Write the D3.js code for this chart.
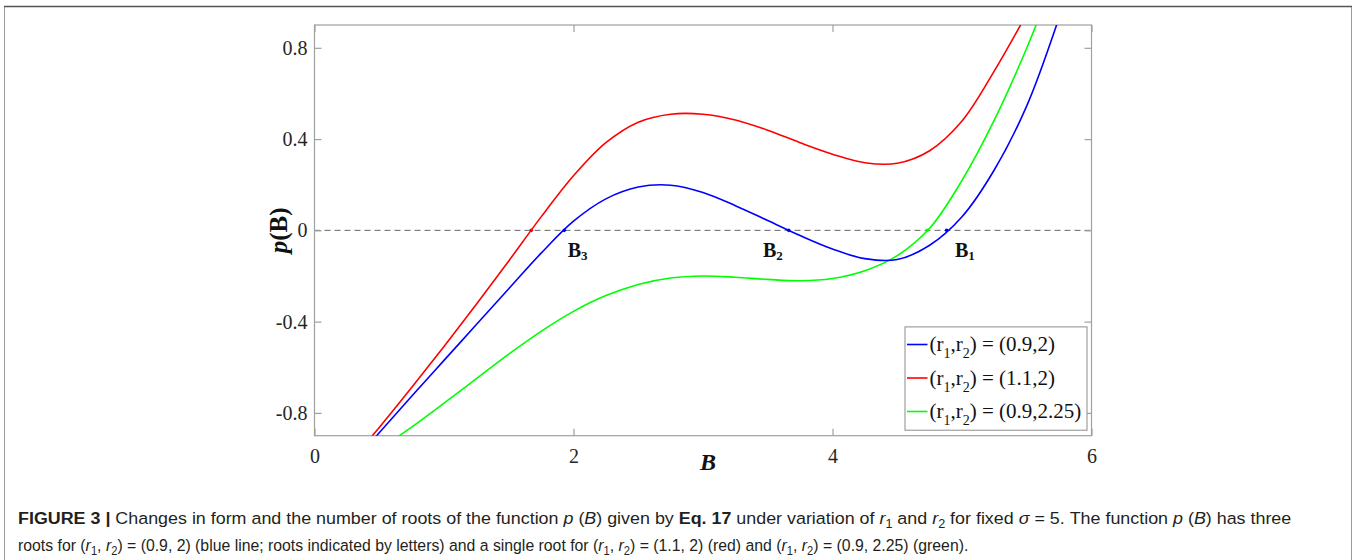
<!DOCTYPE html>
<html><head><meta charset="utf-8">
<script src="https://cdn.jsdelivr.net/npm/d3@7"></script>
<style>body{margin:0;background:#fff;} svg{display:block;}</style>
</head><body>
<svg id="chart" width="1356" height="560"></svg>
<script>
// ---------- DATA ----------
const xTicks = [0, 2, 4, 6];
const xTickLabels = ["0", "2", "4", "6"];
const yTicks = [0.8, 0.4, 0, -0.4, -0.8];
const yTickLabels = ["0.8", "0.4", "0", "-0.4", "-0.8"];

const blueB = [0.25, 0.5, 0.75, 1.0, 1.25, 1.5, 1.75, 2.0, 2.25, 2.5, 2.75, 3.0, 3.25, 3.5, 3.75, 4.0, 4.25, 4.5, 4.75, 5.0, 5.25, 5.5, 5.75];
const blueP = [-1.05, -0.887, -0.727, -0.57, -0.413, -0.256, -0.10, 0.04, 0.138, 0.19, 0.198, 0.166, 0.108, 0.043, -0.023, -0.082, -0.124, -0.128, -0.0655, 0.0595, 0.2655, 0.5455, 0.933];

const redB = [0.25, 0.5, 0.75, 1.0, 1.25, 1.5, 1.75, 2.0, 2.25, 2.5, 2.75, 3.0, 3.25, 3.5, 3.75, 4.0, 4.25, 4.5, 4.75, 5.0, 5.25, 5.5];
const redP = [-1.03, -0.864, -0.689, -0.509, -0.324, -0.134, 0.059, 0.239, 0.384, 0.474, 0.509, 0.509, 0.484, 0.439, 0.384, 0.334, 0.2965, 0.294, 0.349, 0.479, 0.699, 0.949];

const greenB = [0.5, 0.75, 1.0, 1.25, 1.5, 1.75, 2.0, 2.25, 2.5, 2.75, 3.0, 3.25, 3.5, 3.75, 4.0, 4.25, 4.5, 4.75, 5.0, 5.25, 5.5, 5.75];
const greenP = [-0.96, -0.8625, -0.7575, -0.65, -0.5425, -0.4425, -0.355, -0.286, -0.237, -0.209, -0.2, -0.2055, -0.215, -0.221, -0.211, -0.177, -0.111, 0.009, 0.219, 0.484, 0.799, 1.16];

const seriesLabels = ["(0.9,2)", "(1.1,2)", "(0.9,2.25)"];
const seriesColors = ["#0000ff", "#ff0000", "#00ff00"];

const blueRoots = [1.929, 3.662, 4.881];
const redRoots = [1.674];
const greenRoots = [4.732];

const rootLabelSubs = ["3", "2", "1"];
const rootLabelB = [1.955, 3.463, 4.946];
const rootLabelP = [-0.118, -0.118, -0.118];

// ---------- LAYOUT ----------
const svg = d3.select("#chart");
const L = 314.5, R = 1091.5, T = 25, Bt = 435.7;
const x = d3.scaleLinear().domain([0, 6]).range([L, R]);
const y = d3.scaleLinear().domain([-0.9, 0.9]).range([Bt, T]);
const serif = "'Liberation Serif','Times New Roman',serif";
const sans = "'Liberation Sans',Arial,Helvetica,sans-serif";
const axisGray = "#a0a0a0";

// outer figure frame
svg.append("path").attr("d", `M4.5,560 V6.5 H1351.5 V560`).attr("fill", "none").attr("stroke", "#9a9a9a").attr("stroke-width", 1);
svg.append("line").attr("x1", 4).attr("x2", 1352).attr("y1", 6.5).attr("y2", 6.5).attr("stroke", "#555").attr("stroke-width", 1.6);

// clip
svg.append("defs").append("clipPath").attr("id", "plotclip")
  .append("rect").attr("x", L).attr("y", T).attr("width", R - L).attr("height", Bt - T);

// zero dashed line
svg.append("line").attr("x1", x(0)).attr("x2", x(6)).attr("y1", y(0)).attr("y2", y(0))
  .attr("stroke", "#666").attr("stroke-width", 1).attr("stroke-dasharray", "6,4");

// axes
function styleAxis(g) {
  g.select(".domain").remove();
  g.selectAll(".tick line").attr("stroke", axisGray).attr("stroke-width", 1.2);
  g.selectAll("text").attr("font-family", serif).attr("font-size", 20).attr("fill", "#262626");
}
const gL = svg.append("g").attr("transform", `translate(${L},0)`)
  .call(d3.axisLeft(y).tickValues(yTicks).tickSizeInner(-7).tickSizeOuter(0).tickPadding(7)
    .tickFormat((d, i) => yTickLabels[i]));
styleAxis(gL);
gL.selectAll("text").attr("dy", "0.33em");
const gR = svg.append("g").attr("transform", `translate(${R},0)`)
  .call(d3.axisRight(y).tickValues(yTicks).tickSizeInner(-7).tickSizeOuter(0).tickFormat(""));
styleAxis(gR);
const gB = svg.append("g").attr("transform", `translate(0,${Bt})`)
  .call(d3.axisBottom(x).tickValues(xTicks).tickSizeInner(-7).tickSizeOuter(0).tickPadding(13)
    .tickFormat((d, i) => xTickLabels[i]));
styleAxis(gB);
const gT = svg.append("g").attr("transform", `translate(0,${T})`)
  .call(d3.axisTop(x).tickValues(xTicks).tickSizeInner(-7).tickSizeOuter(0).tickFormat(""));
styleAxis(gT);

// box
svg.append("rect").attr("x", L).attr("y", T).attr("width", R - L).attr("height", Bt - T)
  .attr("fill", "none").attr("stroke", axisGray).attr("stroke-width", 1.2);

// curves
const series = [
  { B: blueB, P: blueP, roots: blueRoots },
  { B: redB, P: redP, roots: redRoots },
  { B: greenB, P: greenP, roots: greenRoots }
];
const line = d3.line().x(d => x(d[0])).y(d => y(d[1])).curve(d3.curveCatmullRom.alpha(0.5));
const gC = svg.append("g").attr("clip-path", "url(#plotclip)");
[2, 1, 0].forEach(i => {
  const s = series[i];
  gC.append("path").datum(s.B.map((b, k) => [b, s.P[k]]))
    .attr("d", line).attr("fill", "none").attr("stroke", seriesColors[i]).attr("stroke-width", 1.6);
});
[2, 1, 0].forEach(i => {
  gC.selectAll(null).data(series[i].roots).enter().append("circle")
    .attr("cx", d => x(d)).attr("cy", y(0)).attr("r", 1.8).attr("fill", seriesColors[i]);
});

// root labels
rootLabelSubs.forEach((s, i) => {
  const t = svg.append("text").attr("x", x(rootLabelB[i])).attr("y", y(rootLabelP[i]))
    .attr("font-family", serif).attr("font-weight", "bold").attr("font-size", 20).attr("fill", "#111");
  t.append("tspan").text("B");
  t.append("tspan").attr("font-size", 13).attr("dy", 3).text(s);
});

// axis titles
const yl = svg.append("text").attr("transform", `translate(287,${(T + Bt) / 2}) rotate(-90)`)
  .attr("text-anchor", "middle").attr("font-family", serif).attr("font-weight", "bold").attr("font-size", 25).attr("fill", "#111");
yl.append("tspan").attr("font-style", "italic").text("p");
yl.append("tspan").text("(B)");
svg.append("text").attr("x", (L + R) / 2 + 5).attr("y", 470).attr("text-anchor", "middle")
  .attr("font-family", serif).attr("font-weight", "bold").attr("font-style", "italic").attr("font-size", 24).attr("fill", "#111").text("B");

// legend
const lgW = 182, lgH = 103.3;
const lgX = R - 4.5 - lgW, lgY = Bt - 5.5 - lgH;
svg.append("rect").attr("x", lgX).attr("y", lgY).attr("width", lgW).attr("height", lgH)
  .attr("fill", "#fff").attr("stroke", "#8c8c8c").attr("stroke-width", 1);
seriesLabels.forEach((lab, i) => {
  const cy = lgY + 17.6 + i * 33.5;
  svg.append("line").attr("x1", lgX + 2).attr("x2", lgX + 22.5).attr("y1", cy).attr("y2", cy)
    .attr("stroke", seriesColors[i]).attr("stroke-width", 1.6);
  const t = svg.append("text").attr("x", lgX + 24.5).attr("y", cy + 6.5)
    .attr("font-family", serif).attr("font-size", 21).attr("fill", "#111");
  t.append("tspan").text("(r");
  t.append("tspan").attr("font-size", 14).attr("dy", 7).text("1");
  t.append("tspan").attr("dy", -7).text(",r");
  t.append("tspan").attr("font-size", 14).attr("dy", 7).text("2");
  t.append("tspan").attr("dy", -7).text(") = " + lab);
});

// caption
function captionLine(segs, yPos, targetW) {
  const t = svg.append("text").attr("x", 0).attr("y", 0)
    .attr("font-family", sans).attr("font-size", 17).attr("fill", "#231f20");
  segs.forEach(s => {
    const ts = t.append("tspan").text(s.t);
    if (s.b) ts.attr("font-weight", "bold");
    if (s.i) ts.attr("font-style", "italic");
    if (s.sub) ts.attr("font-size", 12).attr("dy", 3.5);
    if (s.up) ts.attr("dy", -3.5);
  });
  const w = t.node().getComputedTextLength();
  t.attr("transform", `translate(18,${yPos}) scale(${targetW / w},1)`);
}
captionLine([
  { t: "FIGURE 3 | ", b: true },
  { t: "Changes in form and the number of roots of the function " },
  { t: "p", i: true }, { t: " (" }, { t: "B", i: true }, { t: ") given by " },
  { t: "Eq. 17", b: true }, { t: " under variation of " },
  { t: "r", i: true }, { t: "1", sub: true }, { t: " and ", up: true },
  { t: "r", i: true }, { t: "2", sub: true }, { t: " for fixed ", up: true },
  { t: "σ", i: true }, { t: " = 5. The function " },
  { t: "p", i: true }, { t: " (" }, { t: "B", i: true }, { t: ") has three" }
], 524, 1274);
captionLine([
  { t: "roots for (" }, { t: "r", i: true }, { t: "1", sub: true }, { t: ", ", up: true },
  { t: "r", i: true }, { t: "2", sub: true }, { t: ") = (0.9, 2) (blue line; roots indicated by letters) and a single root for (", up: true },
  { t: "r", i: true }, { t: "1", sub: true }, { t: ", ", up: true },
  { t: "r", i: true }, { t: "2", sub: true }, { t: ") = (1.1, 2) (red) and (", up: true },
  { t: "r", i: true }, { t: "1", sub: true }, { t: ", ", up: true },
  { t: "r", i: true }, { t: "2", sub: true }, { t: ") = (0.9, 2.25) (green).", up: true }
], 551, 951);
</script>
</body></html>
